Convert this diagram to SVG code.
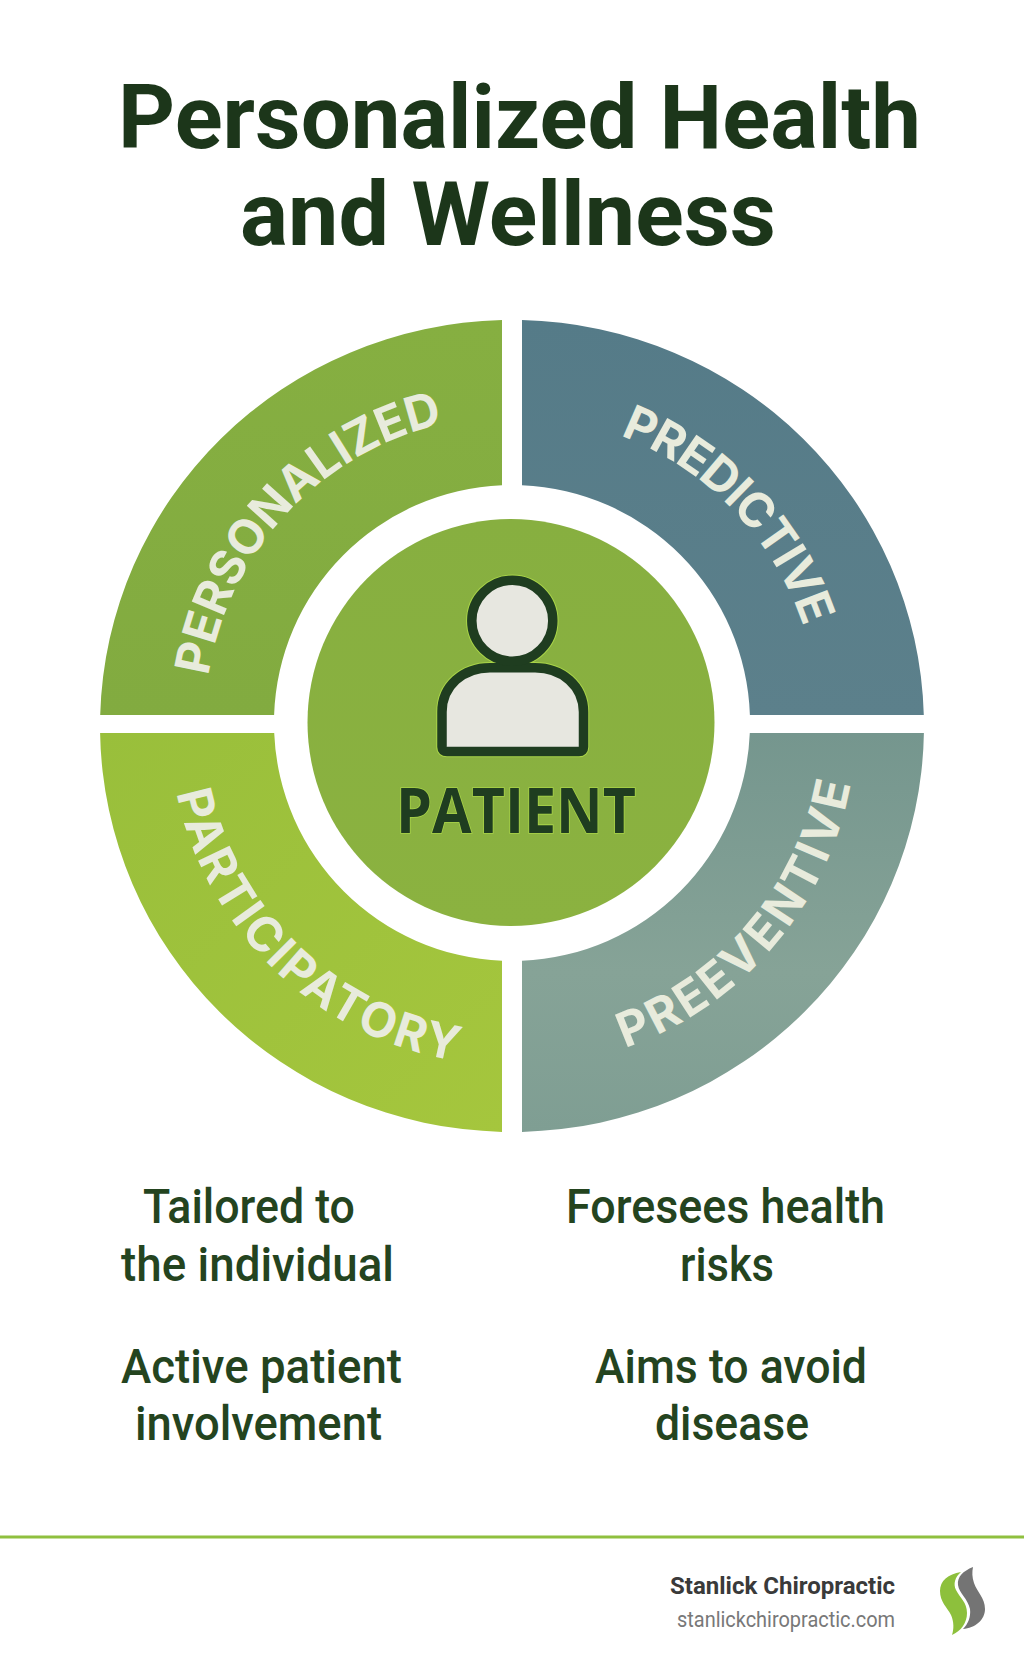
<svg xmlns="http://www.w3.org/2000/svg" width="1024" height="1666" viewBox="0 0 1024 1666">
<style>
.title{font-family:Roboto,"Liberation Sans",sans-serif;font-weight:700;font-size:89px;fill:#1c361a}
.arc{font-family:Inter,"Open Sans",sans-serif;font-weight:700;font-size:48px;fill:#e8ebdc}
.body{font-family:Roboto,"Liberation Sans",sans-serif;font-weight:500;font-size:48px;fill:#24441f}
.line{fill:none;stroke:#1f3d20;stroke-width:9.5;stroke-linejoin:round}
.halo{fill:none;stroke:#a9d448;stroke-width:11.5;stroke-linejoin:round}
.skin{fill:#e7e7e0}
</style>
<defs>
<linearGradient id="gTL" x1="0" y1="0" x2="0" y2="1"><stop offset="0" stop-color="#86af41"/><stop offset="1" stop-color="#82ab40"/></linearGradient>
<linearGradient id="gTR" x1="0" y1="0" x2="0" y2="1"><stop offset="0" stop-color="#557b88"/><stop offset="1" stop-color="#5c808b"/></linearGradient>
<linearGradient id="gBL" x1="0" y1="0" x2="1" y2="1"><stop offset="0" stop-color="#99bf3b"/><stop offset="1" stop-color="#a5c63d"/></linearGradient>
<linearGradient id="gBR" x1="0" y1="0" x2="0" y2="1"><stop offset="0" stop-color="#75968e"/><stop offset="0.6" stop-color="#86a397"/><stop offset="1" stop-color="#7f9e93"/></linearGradient>
<linearGradient id="gC" x1="0" y1="0" x2="0" y2="1"><stop offset="0" stop-color="#87af40"/><stop offset="1" stop-color="#8bb240"/></linearGradient>
<path id="pTL" d="M208.5,676 A306,306 0 0 1 485.3,417.2"/>
<path id="pTR" d="M620,435.6 A307,307 0 0 1 808.5,643.5"/>
<path id="pBL" d="M176.5,793 A342.5,342.5 0 0 0 482.1,1064.2"/>
<path id="pBR" d="M625,1047.9 A344,344 0 0 0 856,723"/>
<path id="bodyShape" d="M447,751.5 Q442,751.5 442,747 V712 C442,686 463,667.7 490,667.7 H535 C562,667.7 583.5,686 583.5,712 V747 Q583.5,751.5 579,751.5 Z"/>
</defs>
<rect width="1024" height="1666" fill="#ffffff"/>
<g id="title">
<text class="title" x="118" y="148" textLength="803" lengthAdjust="spacingAndGlyphs">Personalized Health</text>
<text class="title" x="240" y="245" textLength="536" lengthAdjust="spacingAndGlyphs">and Wellness</text>
</g>
<g id="node-personalized">
<path fill="url(#gTL)" d="M100.2,715 A412,406 0 0 1 502,320.1 V485.2 A238,238 0 0 0 274.1,715 Z"/>
<text class="arc"><textPath href="#pTL" textLength="366">PERSONALIZED</textPath></text>
</g>
<g id="node-predictive">
<path fill="url(#gTR)" d="M522,320.1 A412,406 0 0 1 923.8,715 H749.9 A238,238 0 0 0 522,485.2 Z"/>
<text class="arc"><textPath href="#pTR" textLength="274">PREDICTIVE</textPath></text>
</g>
<g id="node-participatory">
<path fill="url(#gBL)" d="M100.1,733 H274.2 A238,238 0 0 0 502,960.8 V1131.9 A412,406 0 0 1 100.1,733 Z"/>
<text class="arc"><textPath href="#pBL" textLength="412">PARTICIPATORY</textPath></text>
</g>
<g id="node-preventive">
<path fill="url(#gBR)" d="M522,960.8 A238,238 0 0 0 749.8,733 H923.9 A412,406 0 0 1 522,1131.9 Z"/>
<text class="arc"><textPath href="#pBR" textLength="364">PREEVENTIVE</textPath></text>
</g>
<g id="node-patient">
<circle cx="511" cy="722.5" r="203.5" fill="url(#gC)"/>
<use href="#bodyShape" class="halo"/>
<circle cx="512.3" cy="620.7" r="40.5" class="halo"/>
<use href="#bodyShape" class="skin"/>
<use href="#bodyShape" class="line"/>
<circle cx="512.3" cy="620.7" r="40.5" class="skin"/>
<circle cx="512.3" cy="620.7" r="40.5" class="line"/>
<text x="396" y="833" textLength="240" lengthAdjust="spacingAndGlyphs" font-family="'Open Sans','Noto Sans',sans-serif" font-weight="700" font-size="63" fill="#1f3d20" stroke="#a9d448" stroke-width="1.6" paint-order="stroke">PATIENT</text>
</g>
<g id="captions">
<text class="body" x="143" y="1223" textLength="212" lengthAdjust="spacingAndGlyphs">Tailored to</text>
<text class="body" x="121" y="1281" textLength="273" lengthAdjust="spacingAndGlyphs">the individual</text>
<text class="body" x="121" y="1383" textLength="281" lengthAdjust="spacingAndGlyphs">Active patient</text>
<text class="body" x="135" y="1440" textLength="247" lengthAdjust="spacingAndGlyphs">involvement</text>
<text class="body" x="566" y="1223" textLength="319" lengthAdjust="spacingAndGlyphs">Foresees health</text>
<text class="body" x="680" y="1281" textLength="94" lengthAdjust="spacingAndGlyphs">risks</text>
<text class="body" x="595" y="1383" textLength="272" lengthAdjust="spacingAndGlyphs">Aims to avoid</text>
<text class="body" x="655" y="1440" textLength="154" lengthAdjust="spacingAndGlyphs">disease</text>
</g>
<g id="footer">
<rect x="0" y="1535.5" width="1024" height="3" fill="#8fc03f"/>
<text x="670" y="1594" textLength="225" lengthAdjust="spacingAndGlyphs" font-family="Roboto,sans-serif" font-weight="700" font-size="24" fill="#3a3a3a">Stanlick Chiropractic</text>
<text x="677" y="1627" textLength="218" lengthAdjust="spacingAndGlyphs" font-family="Roboto,sans-serif" font-weight="400" font-size="22" fill="#787878">stanlickchiropractic.com</text>
<path fill="#8dc03c" d="M961,1572 C948,1574 940,1581 940,1591 C940,1602 947,1607 951,1615 C954,1622 954,1629 952,1635 C961,1631 967,1623 967,1613 C967,1602 960,1598 956,1590 C953,1584 955,1577 961,1572 Z"/>
<path fill="#747474" d="M973,1567 C963,1571 957,1577 958,1585 C959,1593 968,1599 970,1609 C971,1617 968,1624 963,1629 C975,1628 985,1620 985,1609 C985,1598 977,1592 974,1583 C972,1577 972,1572 973,1567 Z"/>
</g>
</svg>
